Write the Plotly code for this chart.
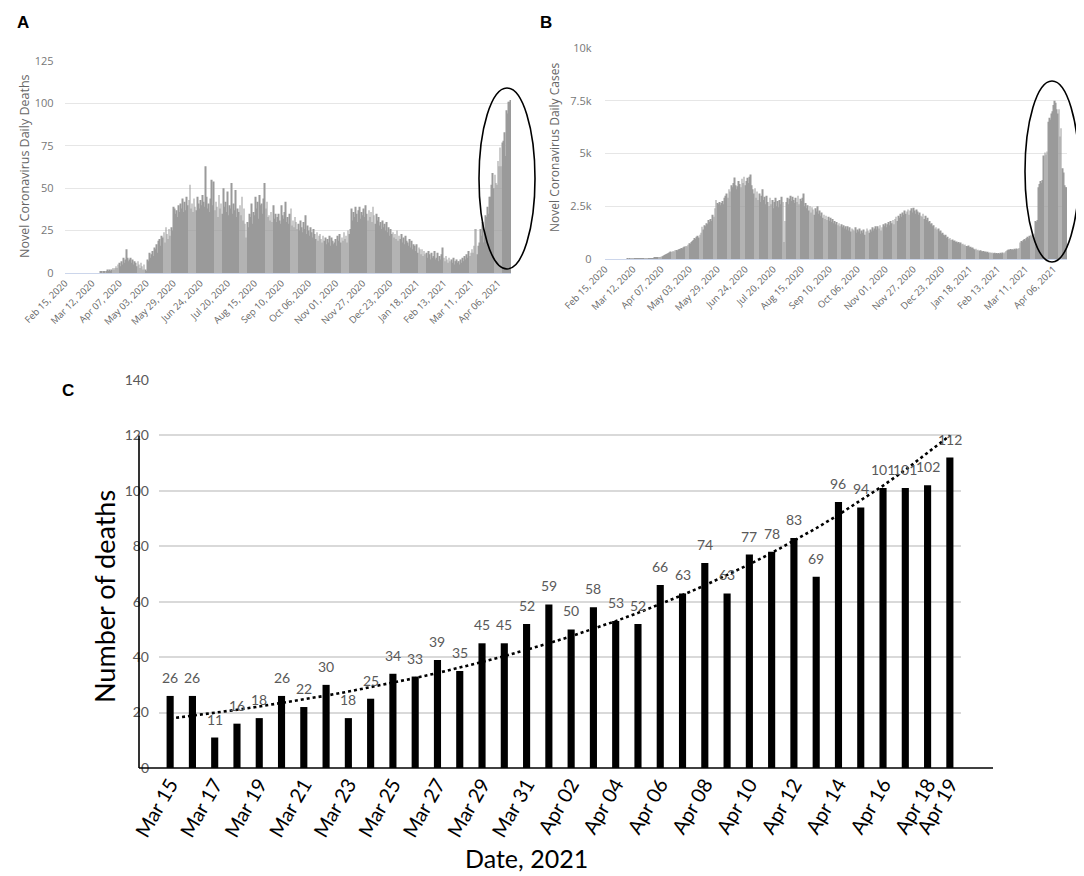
import numpy as np
import pandas as pd
import plotly.graph_objects as go

# ---------------- data ----------------
start_date_ab = "2020-02-15"

deaths_daily = [
    0, 0, 0, 0, 0, 0, 0,
    0, 0, 0, 0, 0, 0, 0,
    0, 0, 0, 0, 0, 0, 0,
    0, 0, 0, 0, 0, 0, 0,
    0, 0, 0, 0, 0, 0, 1,
    1, 0, 1, 1, 0, 1, 2,
    1, 2, 1, 2, 3, 2, 3,
    4, 3, 5, 6, 4, 7, 5,
    9, 6, 8, 14, 9, 7, 8,
    9, 6, 8, 5, 7, 6, 4,
    7, 5, 3, 6, 4, 2, 5,
    2, 1, 8, 7, 12, 9, 11,
    13, 10, 15, 14, 17, 12, 19,
    20, 16, 22, 21, 24, 18, 27,
    23, 20, 26, 22, 27, 25, 39,
    38, 35, 37, 33, 40, 36, 41,
    38, 44, 36, 42, 37, 45, 40,
    43, 52, 38, 41, 36, 44, 39,
    37, 45, 41, 38, 43, 40, 46,
    42, 39, 63, 45, 38, 41, 36,
    44, 55, 40, 54, 37, 42, 39,
    33, 46, 38, 41, 35, 50, 39,
    42, 36, 48, 34, 40, 38, 53,
    35, 41, 37, 49, 33, 38, 36,
    40, 34, 45, 31, 38, 29, 21,
    30, 27, 35, 33, 41, 29, 36,
    34, 45, 38, 42, 32, 46, 40,
    41, 35, 44, 53, 38, 42, 33,
    34, 31, 36, 30, 40, 32, 35,
    30, 33, 35, 31, 29, 40, 34,
    32, 36, 42, 30, 33, 29, 35,
    38, 28, 31, 27, 33, 30, 26,
    29, 25, 31, 27, 24, 30, 26,
    34, 23, 28, 25, 22, 27, 24,
    21, 26, 23, 20, 24, 19, 22,
    23, 20, 18, 22, 19, 21, 17,
    20, 18, 22, 16, 21, 19, 17,
    18, 20, 16, 22, 19, 23, 18,
    21, 19, 24, 20, 22, 18, 25,
    23, 26, 38, 31, 36, 33, 39,
    35, 30, 37, 39, 32, 36, 34,
    38, 33, 40, 35, 31, 37, 33,
    36, 30, 39, 34, 29, 35, 31,
    33, 28, 30, 26, 31, 27, 29,
    25, 30, 24, 27, 22, 26, 23,
    24, 21, 23, 20, 25, 19, 22,
    20, 23, 18, 21, 17, 22, 19,
    18, 16, 20, 15, 19, 14, 17,
    16, 13, 17, 12, 15, 14, 11,
    14, 10, 13, 11, 12, 9, 13,
    11, 8, 12, 9, 10, 13, 8,
    9, 12, 7, 10, 8, 11, 15,
    9, 7, 10, 8, 6, 9, 7,
    8, 6, 9, 5, 7, 8, 6,
    7, 5, 8, 6, 9, 7, 10,
    8, 11, 9, 13, 10, 12, 14,
    12, 16,
    26, 26, 11, 16, 18, 26, 22, 30, 18, 25, 34, 33, 39, 35, 45, 45, 52,
    59, 50, 58, 53, 52, 66, 63, 74, 63, 77, 78, 83, 69, 96, 94, 101, 101, 102,
]

cases_daily = [
    0, 0, 0, 0, 0, 0, 0,
    0, 0, 0, 0, 0, 0, 0,
    0, 0, 0, 0, 0, 0, 0,
    1, 0, 2, 1, 3, 2, 5,
    4, 8, 6, 12, 10, 15, 14,
    20, 18, 25, 22, 30, 28, 35,
    32, 40, 38, 45, 50, 48, 60,
    70, 85, 95, 110, 130, 150, 190,
    210, 240, 260, 290, 320, 350, 330,
    380, 360, 410, 430, 400, 450, 470,
    480, 520, 500, 560, 590, 620, 600,
    680, 750, 720, 800, 850, 900, 1000,
    950, 1050, 1100, 1020, 1150, 1250, 1530,
    1400, 1600, 1550, 1700, 1650, 1850, 1750,
    1900, 1800, 2100, 2000, 2400, 2800, 2650,
    2600, 2700, 2550, 2650, 2750, 2600, 2900,
    3000, 3100, 2900, 3300, 3200, 3500, 3400,
    3600, 3860, 3500, 3300, 3450, 3700, 3550,
    3400, 3800, 3600, 3900, 3500, 3700, 3850,
    3600, 3900, 4000, 3500, 3300, 3100, 3350,
    2900, 3200, 2800, 3100, 2700, 3000, 3300,
    2800, 2950, 2600, 3000, 2700, 2500, 2900,
    2600, 2800, 2400, 2700, 2900, 2500, 2750,
    2450, 2800, 2600, 2950, 2700, 800, 1800,
    2700, 2900, 2600, 2850, 3000, 2750, 2950,
    2800, 2650, 2900, 2700, 3000, 2600, 2850,
    2750, 2900, 3100, 2500, 2650, 2400, 2550,
    2300, 2500, 2200, 2450, 2350, 2100, 2400,
    2250, 2500, 2150, 2300, 2050, 2200, 1950,
    2100, 1900, 2050, 1850, 2000, 1800, 1950,
    1750, 1900, 1700, 1800, 1650, 1750, 1600,
    1700, 1550, 1650, 1500, 1600, 1450, 1550,
    1400, 1550, 1350, 1500, 1300, 1450, 1400,
    1350, 1500, 1250, 1400, 1300, 1450, 1200,
    1350, 1250, 1400, 1150, 1300, 1450, 1350,
    1250, 1400, 1300, 1500, 1350, 1450, 1550,
    1400, 1550, 1450, 1600, 1350, 1500, 1650,
    1550, 1700, 1500, 1650, 1750, 1600, 1800,
    1700, 1850, 1650, 1900, 2000, 1800, 2050,
    1950, 2150, 2000, 2200, 2100, 2300, 2150,
    2250, 2350, 2100, 2300, 2400, 2200, 2430,
    2300, 2150, 2350, 2250, 2100, 2200, 2050,
    2000, 2150, 1900, 2050, 1850, 1950, 1750,
    1800, 1650, 1700, 1550, 1600, 1450, 1500,
    1400, 1450, 1300, 1350, 1200, 1250, 1150,
    1100, 1150, 1000, 1050, 950, 1000, 900,
    920, 850, 880, 800, 830, 760, 800,
    740, 780, 700, 720, 650, 690, 620,
    600, 640, 560, 580, 520, 550, 480,
    450, 480, 420, 440, 390, 410, 370,
    360, 380, 330, 350, 310, 340, 300,
    320, 290, 310, 270, 300, 260, 280,
    250, 290, 240, 300, 260, 310, 270,
    320, 380, 420, 450, 430, 470, 440,
    460, 430, 480, 450, 500, 470, 520,
    780, 850, 820, 900, 950, 880, 1000,
    1050, 980, 1100, 1150, 1080, 1120, 1200,
    1800, 1750, 1850, 3400, 3550, 3700, 3600,
    3750, 4900, 5050, 4950, 5100, 6500, 6700,
    6600, 6900, 7000, 7300, 7500, 7400, 7100,
    6900, 7100, 5800, 6200, 4300, 4100, 3500,
    3400, 3400,
]

tick_dates_ab = ["2020-02-15", "2020-03-12", "2020-04-07", "2020-05-03", "2020-05-29",
                 "2020-06-24", "2020-07-20", "2020-08-15", "2020-09-10", "2020-10-06",
                 "2020-11-01", "2020-11-27", "2020-12-23", "2021-01-18", "2021-02-13",
                 "2021-03-11", "2021-04-06"]
tick_text_ab = ["Feb 15, 2020", "Mar 12, 2020", "Apr 07, 2020", "May 03, 2020", "May 29, 2020",
                "Jun 24, 2020", "Jul 20, 2020", "Aug 15, 2020", "Sep 10, 2020", "Oct 06, 2020",
                "Nov 01, 2020", "Nov 27, 2020", "Dec 23, 2020", "Jan 18, 2021", "Feb 13, 2021",
                "Mar 11, 2021", "Apr 06, 2021"]

deaths_ticks = [0, 25, 50, 75, 100, 125]
cases_ticks = [0, 2500, 5000, 7500, 10000]
cases_tick_text = ["0", "2.5k", "5k", "7.5k", "10k"]

c_dates = ["Mar 15", "Mar 16", "Mar 17", "Mar 18", "Mar 19", "Mar 20", "Mar 21", "Mar 22",
           "Mar 23", "Mar 24", "Mar 25", "Mar 26", "Mar 27", "Mar 28", "Mar 29", "Mar 30",
           "Mar 31", "Apr 01", "Apr 02", "Apr 03", "Apr 04", "Apr 05", "Apr 06", "Apr 07",
           "Apr 08", "Apr 09", "Apr 10", "Apr 11", "Apr 12", "Apr 13", "Apr 14", "Apr 15",
           "Apr 16", "Apr 17", "Apr 18", "Apr 19"]
c_deaths = [26, 26, 11, 16, 18, 26, 22, 30, 18, 25, 34, 33, 39, 35, 45, 45, 52,
            59, 50, 58, 53, 52, 66, 63, 74, 63, 77, 78, 83, 69, 96, 94, 101, 101, 102, 112]
c_tick_labels = ["Mar 15", "Mar 17", "Mar 19", "Mar 21", "Mar 23", "Mar 25", "Mar 27",
                 "Mar 29", "Mar 31", "Apr 02", "Apr 04", "Apr 06", "Apr 08", "Apr 10",
                 "Apr 12", "Apr 14", "Apr 16", "Apr 18", "Apr 19"]
c_yticks = [0, 20, 40, 60, 80, 100, 120, 140]

# ---------------- helpers ----------------
W, H = 1084, 876


def px(x):
    return x / W


def py(y):
    return 1 - y / H


dates_ab = pd.date_range(start_date_ab, periods=len(deaths_daily), freq="D")
day_ms = 86400000
ab_range = [dates_ab[0] - pd.Timedelta(hours=12), dates_ab[-1] + pd.Timedelta(hours=12)]

# exponential trend line (Excel-style fit of ln(y) on x)
xs = np.arange(len(c_deaths))
slope, intercept = np.polyfit(xs, np.log(np.array(c_deaths, dtype=float)), 1)
c_trend = np.exp(intercept + slope * xs)

GRAY_BAR = "#9a9a9a"
HC_FONT = "Open Sans"
C_FONT = "Lato"

fig = go.Figure()

fig.add_trace(go.Bar(x=dates_ab, y=deaths_daily, xaxis="x", yaxis="y",
                     marker=dict(color=GRAY_BAR, line=dict(width=0)),
                     width=0.7 * day_ms, hoverinfo="x+y"))
fig.add_trace(go.Bar(x=dates_ab, y=cases_daily, xaxis="x2", yaxis="y2",
                     marker=dict(color=GRAY_BAR, line=dict(width=0)),
                     width=0.7 * day_ms, hoverinfo="x+y"))
fig.add_trace(go.Bar(x=c_dates, y=c_deaths, xaxis="x3", yaxis="y3",
                     marker=dict(color="black", line=dict(width=0)),
                     width=0.32, hoverinfo="x+y"))
fig.add_trace(go.Scatter(x=c_dates, y=c_trend, xaxis="x3", yaxis="y3", mode="lines",
                         line=dict(color="black", width=2.6, dash="dot"),
                         hoverinfo="skip"))

ab_xaxis = dict(type="date", tickvals=tick_dates_ab, ticktext=tick_text_ab, tickangle=-45,
                tickfont=dict(family=HC_FONT, size=9.5, color="#666666"),
                showgrid=False, zeroline=False, showline=True, linecolor="#ccd6eb",
                linewidth=1, ticks="", range=ab_range, fixedrange=True, automargin=False)

fig.update_layout(
    template="none",
    width=W, height=H,
    margin=dict(l=0, r=0, t=0, b=0, pad=0, autoexpand=False),
    paper_bgcolor="white", plot_bgcolor="white",
    showlegend=False,
    xaxis=dict(ab_xaxis, domain=[px(56.5), px(503)], anchor="y"),
    yaxis=dict(domain=[py(265), py(53)], range=[0, 125], tickvals=deaths_ticks,
               tickfont=dict(family=HC_FONT, size=11, color="#777777"),
               gridcolor="#e6e6e6", gridwidth=1, zeroline=False, showline=False,
               ticks="", ticklabelstandoff=10, anchor="x", automargin=False),
    xaxis2=dict(ab_xaxis, domain=[px(596.5), px(1059)], anchor="y2"),
    yaxis2=dict(domain=[py(251), py(40)], range=[0, 10000], tickvals=cases_ticks,
                ticktext=cases_tick_text,
                tickfont=dict(family=HC_FONT, size=11, color="#777777"),
                gridcolor="#e6e6e6", gridwidth=1, zeroline=False, showline=False,
                ticks="", ticklabelstandoff=12, anchor="x2", automargin=False),
    xaxis3=dict(type="category", domain=[px(151), px(953)], anchor="y3",
                range=[-0.5, len(c_dates) - 0.5], tickvals=c_tick_labels,
                ticktext=c_tick_labels, tickangle=-60,
                tickfont=dict(family=C_FONT, size=20, color="black"),
                showgrid=False, zeroline=False, showline=False, ticks="",
                automargin=False),
    yaxis3=dict(domain=[py(760), py(372)], range=[0, 140], tickvals=c_yticks,
                tickfont=dict(family=C_FONT, size=14, color="#595959"),
                gridcolor="#d9d9d9", gridwidth=1.5, zeroline=False, showline=False,
                ticks="", ticklabelstandoff=9, anchor="x3", automargin=False),
)

shapes = [
    # panel C axis lines
    dict(type="line", xref="paper", yref="paper", x0=px(131), x1=px(985),
         y0=py(760), y1=py(760), line=dict(color="black", width=1.6)),
    dict(type="line", xref="paper", yref="y3", x0=px(131), x1=px(131),
         y0=0, y1=120, line=dict(color="black", width=1.6)),
    # highlight ellipses
    dict(type="circle", xref="paper", yref="paper", x0=px(471), x1=px(527),
         y0=py(261), y1=py(80), line=dict(color="black", width=1.6)),
    dict(type="circle", xref="paper", yref="paper", x0=px(1017), x1=px(1071),
         y0=py(254), y1=py(73), line=dict(color="black", width=1.6)),
]
fig.update_layout(shapes=shapes)

annotations = [
    dict(text="<b>A</b>", x=px(15), y=py(14), font=dict(family="Liberation Sans", size=17, color="black")),
    dict(text="<b>B</b>", x=px(538), y=py(14), font=dict(family="Liberation Sans", size=17, color="black")),
    dict(text="<b>C</b>", x=px(60), y=py(382), font=dict(family="Liberation Sans", size=17, color="black")),
    dict(text="Novel Coronavirus Daily Deaths", x=px(16), y=py(158), textangle=-90,
         font=dict(family=HC_FONT, size=12.5, color="#666666")),
    dict(text="Novel Coronavirus Daily Cases", x=px(546), y=py(140), textangle=-90,
         font=dict(family=HC_FONT, size=12, color="#666666")),
    dict(text="Number of deaths", x=px(96), y=py(589), textangle=-90,
         font=dict(family=C_FONT, size=27, color="black")),
    dict(text="Date, 2021", x=px(518), y=py(850),
         font=dict(family=C_FONT, size=25, color="black")),
]
for a in annotations:
    a.update(xref="paper", yref="paper", showarrow=False, xanchor="center", yanchor="middle")

# value labels above the bars of panel C, placed through the C axes
for d, v in zip(c_dates, c_deaths):
    annotations.append(dict(text=str(v), x=d, y=v, xref="x3", yref="y3", showarrow=False,
                            xanchor="center", yanchor="bottom", yshift=8,
                            font=dict(family=C_FONT, size=14, color="#595959")))
fig.update_layout(annotations=annotations)

fig.write_html("out.html")
